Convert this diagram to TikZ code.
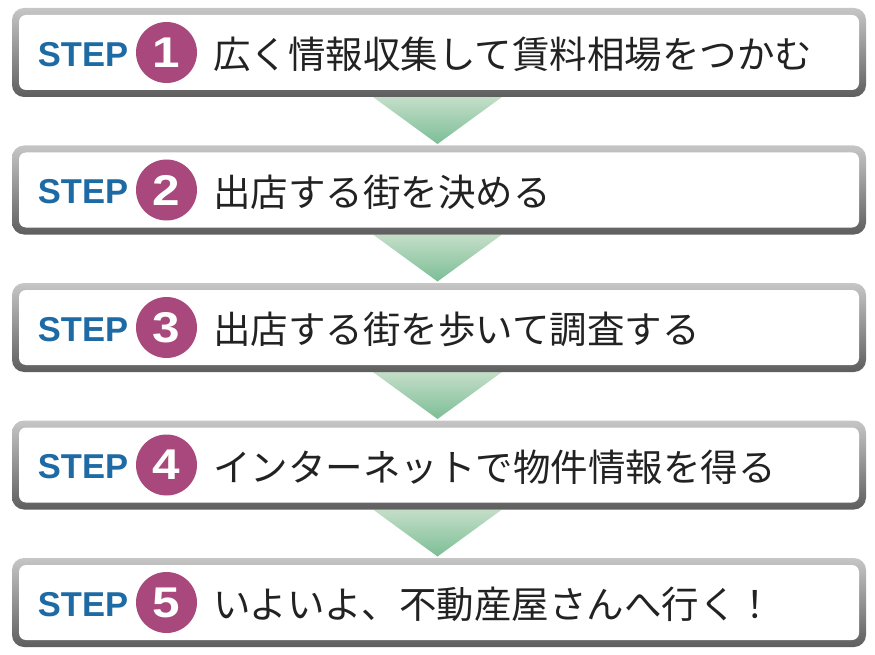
\documentclass[tikz,border=0pt]{standalone}
\usepackage{fontspec}
\usepackage{graphicx}
\newfontfamily\jpfont{Noto Sans CJK JP}
\newfontfamily\arialfont{Liberation Sans}
\definecolor{boxtop}{HTML}{C6C6C6}
\definecolor{boxbot}{HTML}{5E5E5E}
\definecolor{triA}{HTML}{C4DEC8}
\definecolor{triB}{HTML}{7CBE96}
\definecolor{stepcol}{HTML}{1E6AA4}
\definecolor{numcol}{HTML}{A8487C}
\definecolor{txtcol}{HTML}{222222}
\newcommand{\stepfont}{\fontsize{34.5}{36}\arialfont\bfseries}
\tikzset{
  outerbox/.style={top color=boxtop, bottom color=boxbot, rounded corners=12pt},
  innerbox/.style={fill=white, rounded corners=7pt},
  arrowtri/.style={top color=triA, bottom color=triB},
  steplabel/.style={text=stepcol, font=\stepfont, inner sep=0pt},
  numcircle/.style={circle, fill=numcol, minimum size=61pt, inner sep=0pt, text=white,
    font=\fontsize{43}{45}\arialfont\bfseries},
  jptext/.style={anchor=west, inner sep=0pt, text=txtcol, font=\fontsize{37.5}{40}\jpfont}
}
\begin{document}
\begin{tikzpicture}[x=1pt,y=-1pt]
\useasboundingbox (0,0) rectangle (875,655);
% arrows between boxes
\foreach \t [count=\i] in {97,234.5,372,509.5}{
  \coordinate (ta\i) at (373,\t);
  \coordinate (tb\i) at (502,\t);
  \coordinate (tc\i) at (437.5,\t+47);
  \shade[arrowtri] (ta\i) -- (tb\i) -- (tc\i) -- cycle;
}
% boxes
\foreach \t/\txt [count=\i] in {8/{広く情報収集して賃料相場をつかむ},145.5/{出店する街を決める},283/{出店する街を歩いて調査する},420.5/{インターネットで物件情報を得る},558/{いよいよ、不動産屋さんへ行く！}}{
  \shade[outerbox] (12,\t) rectangle (866,\t+89);
  \fill[innerbox] (19,\t+7) rectangle (859,\t+82);
  \node (step\i) [steplabel] at (83,\t+46.5) {STEP};
  \node (num\i) [numcircle] at (166.5,\t+44.5) {\scalebox{1.15}[1]{\i}};
  \node (txt\i) [jptext] at (213,\t+46.5) {\txt};
}
\end{tikzpicture}
\end{document}
